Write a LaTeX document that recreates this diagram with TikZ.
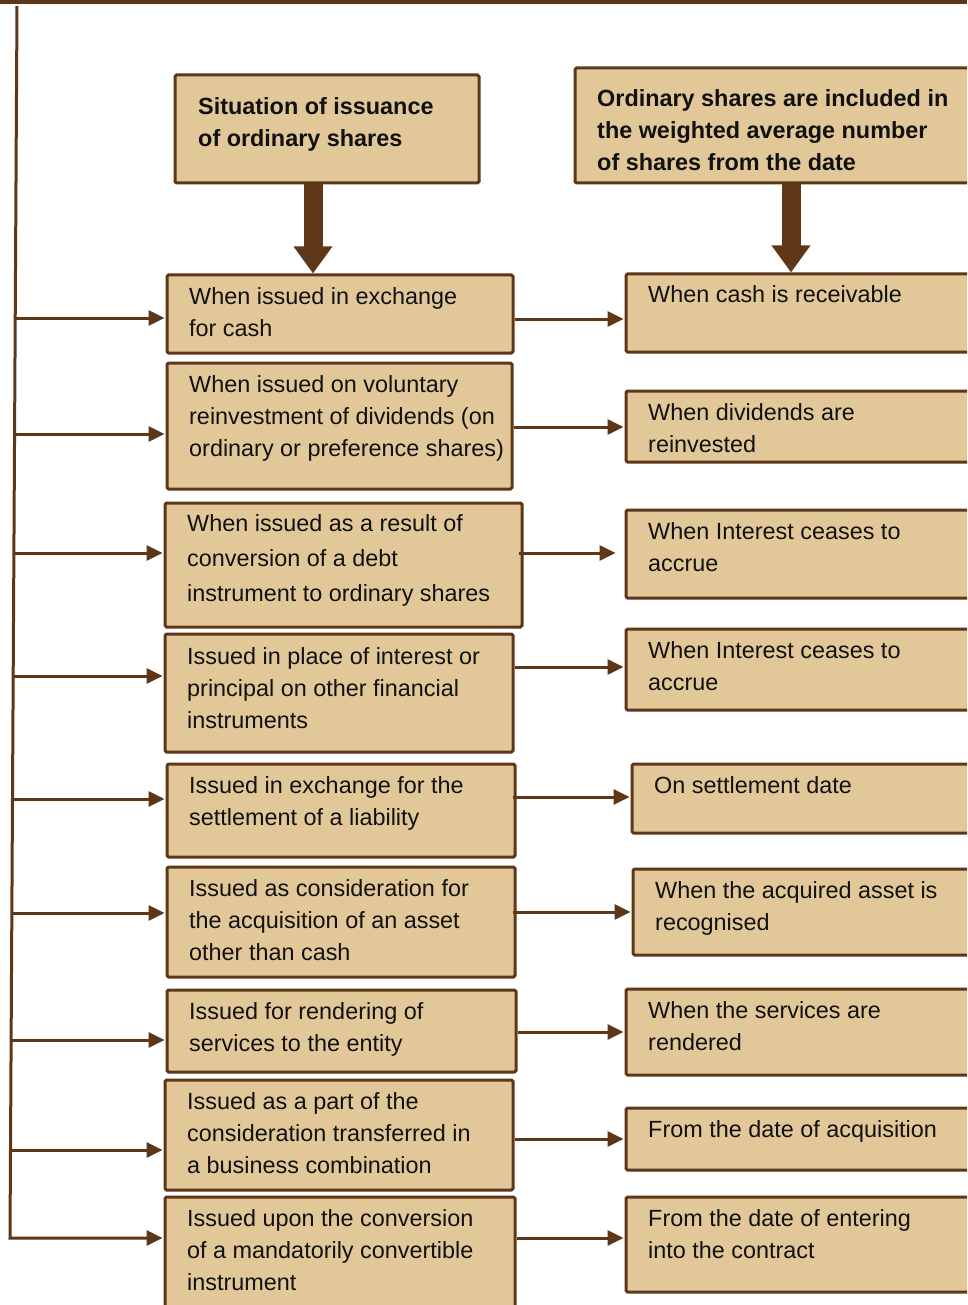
\documentclass[tikz,border=0pt]{standalone}
\usepackage{fontspec}
\setmainfont{Liberation Sans}
\usetikzlibrary{arrows.meta,fit}
\definecolor{brn}{HTML}{5E3618}
\definecolor{tan}{HTML}{E2C898}
\definecolor{ink}{HTML}{111111}
\tikzset{
  box/.style={draw=brn, fill=tan, line width=3pt, rounded corners=1.5pt, inner sep=0pt},
  txt/.style={anchor=north west, align=left, inner sep=0pt, text=ink,
              font=\fontsize{23.4}{32}\selectfont},
  hd/.style={txt, font=\fontsize{23.4}{32}\selectfont\bfseries},
  conn/.style={draw=brn, line width=3pt, -{Triangle[length=16pt,width=15pt]}, shorten >=1pt},
  big/.style={draw=brn, line width=19pt, -{Triangle[length=27pt,width=37pt]}}
}
% text placed by the baseline of its first line
\newcommand\tx[4][txt]{\node[#1] at (#2,#3-20) {\rule{0pt}{20pt}#4};}
\begin{document}
\begin{tikzpicture}[x=1pt,y=-1pt]
\useasboundingbox (0,0) rectangle (967,1305);
\clip (0,0) rectangle (967,1305);

% rule along the top
\draw[brn, line width=4pt] (0,2) -- (967,2);

% header boxes
\node[box, fit={(175,75)(479,183)}] (h1) {};
\node[box, fit={(575,68)(980,183)}] (h2) {};
\tx[hd]{198}{114}{Situation of issuance\\of ordinary shares}
\tx[hd]{597}{106}{Ordinary shares are included in\\the weighted average number\\of shares from the date}

% situations
\node[box, fit={(167,275)(513,353)}] (l1) {};
\node[box, fit={(167,363)(512,489)}] (l2) {};
\node[box, fit={(165,503)(522,627)}] (l3) {};
\node[box, fit={(165,634)(513,752)}] (l4) {};
\node[box, fit={(167,764)(515,857)}] (l5) {};
\node[box, fit={(167,867)(515,977)}] (l6) {};
\node[box, fit={(167,990)(516,1072)}] (l7) {};
\node[box, fit={(165,1080)(513,1190)}] (l8) {};
\node[box, fit={(165,1197)(515,1320)}] (l9) {};

\tx{189}{304}{When issued in exchange\\for cash}
\tx{189}{392}{When issued on voluntary\\reinvestment of dividends (on\\ordinary or preference shares)}
\tx[txt,font=\fontsize{23.4}{35}\selectfont]{187}{531}{When issued as a result of\\conversion of a debt\\instrument to ordinary shares}
\tx{187}{664}{Issued in place of interest or\\principal on other financial\\instruments}
\tx{189}{793}{Issued in exchange for the\\settlement of a liability}
\tx{189}{896}{Issued as consideration for\\the acquisition of an asset\\other than cash}
\tx{189}{1019}{Issued for rendering of\\services to the entity}
\tx{187}{1109}{Issued as a part of the\\consideration transferred in\\a business combination}
\tx{187}{1226}{Issued upon the conversion\\of a mandatorily convertible\\instrument}

% dates of inclusion
\node[box, fit={(626,274)(980,352)}] (r1) {};
\node[box, fit={(626,391)(980,462)}] (r2) {};
\node[box, fit={(626,510)(980,598)}] (r3) {};
\node[box, fit={(626,629)(980,710)}] (r4) {};
\node[box, fit={(632,764)(980,833)}] (r5) {};
\node[box, fit={(633,869)(980,955)}] (r6) {};
\node[box, fit={(626,989)(980,1075)}] (r7) {};
\node[box, fit={(626,1108)(980,1170)}] (r8) {};
\node[box, fit={(626,1197)(980,1292)}] (r9) {};

\tx{648}{302}{When cash is receivable}
\tx{648}{420}{When dividends are\\reinvested}
\tx{648}{539}{When Interest ceases to\\accrue}
\tx{648}{658}{When Interest ceases to\\accrue}
\tx{654}{793}{On settlement date}
\tx{655}{898}{When the acquired asset is\\recognised}
\tx{648}{1018}{When the services are\\rendered}
\tx{648}{1137}{From the date of acquisition}
\tx{648}{1226}{From the date of entering\\into the contract}

% thick arrows below the headers
\coordinate (ax1) at (313,0);
\coordinate (ax2) at (791,0);
\draw[big] (h1.south -| ax1) -- (l1.north -| ax1);
\draw[big] (h2.south -| ax2) -- (r1.north -| ax2);

% left spine and its branches
\coordinate (top) at (17,6);
\coordinate (bot) at (10,1238);
\coordinate (v1) at (15.2,318);
\coordinate (v2) at (14.6,434);
\coordinate (v3) at (13.9,553);
\coordinate (v4) at (13.2,676);
\coordinate (v5) at (12.5,799);
\coordinate (v6) at (11.9,913);
\coordinate (v7) at (11.1,1040);
\coordinate (v8) at (10.5,1150);
\draw[conn] (top) -- (bot) -- (bot -| l9.west);
\foreach \i in {1,...,8} \draw[conn] (v\i) -- (v\i -| l\i.west);

% situation -> date
\coordinate (m1) at (0,319);
\coordinate (m2) at (0,427);
\coordinate (m3) at (0,553);
\coordinate (m4) at (0,667);
\coordinate (m5) at (0,797);
\coordinate (m6) at (0,912);
\coordinate (m7) at (0,1032);
\coordinate (m8) at (0,1139);
\coordinate (m9) at (0,1238);
\foreach \i in {1,2,4,7,8,9} \draw[conn] (m\i -| l\i.east) -- (m\i -| r\i.west);
\draw[conn, shorten <=-5pt, shorten >=9pt] (m3 -| l3.east) -- (m3 -| r3.west);
\draw[conn, shorten <=-4pt] (m5 -| l5.east) -- (m5 -| r5.west);
\draw[conn, shorten <=-4pt] (m6 -| l6.east) -- (m6 -| r6.west);
\end{tikzpicture}
\end{document}
